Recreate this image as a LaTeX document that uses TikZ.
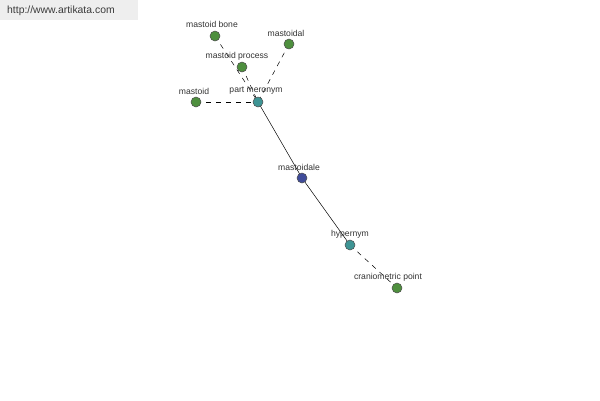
\documentclass[tikz,border=0pt]{standalone}
\usepackage{fontspec}
\setmainfont{Liberation Sans}
\definecolor{ngreen}{HTML}{4E8F3E}
\definecolor{nteal}{HTML}{3E9494}
\definecolor{nblue}{HTML}{404C9A}
\definecolor{wmbg}{HTML}{EEEEEE}
\definecolor{wmtx}{HTML}{3A3A3A}
\definecolor{lbl}{HTML}{333333}
\begin{document}
\begin{tikzpicture}[x=1pt,y=-1pt,
  dot/.style={circle,draw=black!70,line width=0.5pt,inner sep=0pt,minimum size=10pt},
  lab/.style={font=\fontsize{8.6}{9}\selectfont,text=lbl,inner sep=0pt},
  dlink/.style={draw=black,line width=0.5pt,dash pattern=on 5pt off 5pt},
  slink/.style={draw=black,line width=0.5pt}]
\useasboundingbox[fill=white] (0,0) rectangle (600,400);
\fill[wmbg] (0,0) rectangle (138,20);
\node[font=\fontsize{10.4}{11}\selectfont,text=wmtx,anchor=west,inner sep=0pt] (wm) at (7,11) {http://www.artikata.com};
% edges first
\coordinate (pmc) at (258,102);
\coordinate (mbc) at (215,36);
\coordinate (mpc) at (242,67);
\coordinate (mlc) at (289,44);
\coordinate (mc) at (196,102);
\coordinate (mec) at (302,178);
\coordinate (hc) at (350,245);
\coordinate (cpc) at (397,288);
\draw[dlink] (mbc) -- (pmc);
\draw[dlink] (mpc) -- (pmc);
\draw[dlink] (mlc) -- (pmc);
\draw[dlink] (mc) -- (pmc);
\draw[slink] (pmc) -- (mec);
\draw[slink] (mec) -- (hc);
\draw[dlink] (hc) -- (cpc);
% nodes
\node[dot,fill=ngreen] (mb) at (mbc) {};
\node[dot,fill=ngreen] (ml) at (mlc) {};
\node[dot,fill=ngreen] (mp) at (mpc) {};
\node[dot,fill=ngreen] (m) at (mc) {};
\node[dot,fill=nteal] (pm) at (pmc) {};
\node[dot,fill=nblue] (me) at (mec) {};
\node[dot,fill=nteal] (h) at (hc) {};
\node[dot,fill=ngreen] (cp) at (cpc) {};
% labels
\node[lab] (lmb) at (212,24) {mastoid bone};
\node[lab] (lml) at (286,33) {mastoidal};
\node[lab] (lmp) at (237,56) {mastoid process};
\node[lab] (lm) at (194,91) {mastoid};
\node[lab] (lpm) at (256,91) {part meronym};
\node[lab] (lme) at (299,167) {mastoidale};
\node[lab] (lh) at (350,234) {hypernym};
\node[lab] (lcp) at (388,277) {craniometric point};
\end{tikzpicture}
\end{document}
